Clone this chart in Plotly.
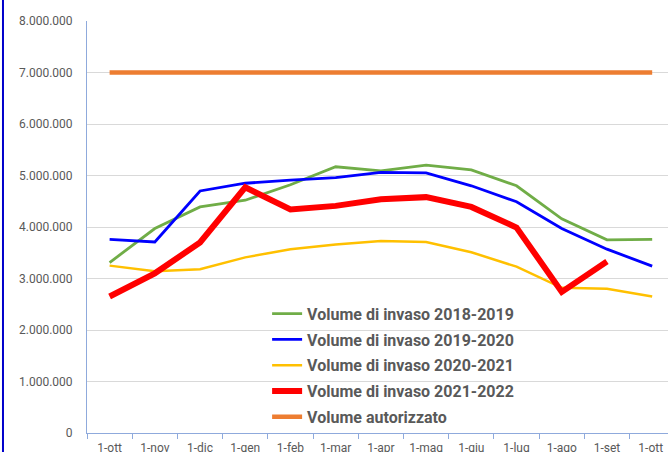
import plotly.graph_objects as go

months = ["1-ott", "1-nov", "1-dic", "1-gen", "1-feb", "1-mar", "1-apr",
          "1-mag", "1-giu", "1-lug", "1-ago", "1-set", "1-ott "]

v_2018_2019 = [3310000, 3970000, 4390000, 4520000, 4820000, 5170000, 5090000,
               5200000, 5110000, 4800000, 4160000, 3750000, 3760000]
v_2019_2020 = [3760000, 3710000, 4700000, 4850000, 4910000, 4960000, 5060000,
               5050000, 4800000, 4490000, 3970000, 3570000, 3240000]
v_2020_2021 = [3250000, 3140000, 3180000, 3410000, 3570000, 3660000, 3730000,
               3710000, 3510000, 3230000, 2820000, 2800000, 2650000]
v_2021_2022 = [2650000, 3100000, 3700000, 4770000, 4340000, 4410000, 4540000,
               4580000, 4390000, 3990000, 2740000, 3330000, None]
v_autorizzato = [7000000] * 13

series = [
    ("Volume di invaso 2018-2019", v_2018_2019, "#70AD47", 2.8),
    ("Volume di invaso 2019-2020", v_2019_2020, "#0000FF", 2.8),
    ("Volume di invaso 2020-2021", v_2020_2021, "#FFC000", 2.5),
    ("Volume di invaso 2021-2022", v_2021_2022, "#FF0000", 6),
    ("Volume autorizzato", v_autorizzato, "#ED7D31", 4.5),
]

fig = go.Figure()
for i, (name, vals, color, w) in enumerate(series):
    fig.add_trace(go.Scatter(x=months, y=vals, name=name, mode="lines",
                             line=dict(color=color, width=w),
                             legendgroup="g%d" % i,
                             connectgaps=False))

axis_col = "#8FAADC"
fig.update_layout(
    width=668, height=452,
    margin=dict(l=87, r=0, t=21, b=19),
    paper_bgcolor="white", plot_bgcolor="white",
    separators=",.",
    font=dict(family="Roboto", color="#595959", size=12),
    showlegend=True,
    legend=dict(x=0.31, y=0.331, xanchor="left", yanchor="top",
                bgcolor="rgba(0,0,0,0)", itemwidth=30, tracegroupgap=2,
                font=dict(size=16, color="#595959", family="Roboto", weight="bold")),
    xaxis=dict(type="category", range=[-0.5, 12.35], showgrid=False,
               showline=True, linecolor=axis_col, linewidth=1,
               ticks="outside", tickson="boundaries", ticklen=5, tickcolor=axis_col,
               ticklabelstandoff=4,
               tickfont=dict(size=12, color="#595959"), automargin=False),
    yaxis=dict(range=[0, 8000000], dtick=1000000, tickformat=",d",
               showgrid=True, gridcolor="#D9D9D9", gridwidth=1,
               showline=True, linecolor=axis_col, linewidth=1,
               zeroline=False, ticks="", ticklabelstandoff=11,
               tickfont=dict(size=12, color="#595959"),
               automargin=False),
    shapes=[dict(type="line", xref="paper", yref="paper",
                 x0=-0.1446, x1=-0.1446, y0=-0.1, y1=1.1,
                 line=dict(color="#0000CC", width=2))],
)

fig.write_html("out.html", config={"displayModeBar": False},
               post_script="document.body.style.margin='0';document.body.style.overflow='hidden';")
